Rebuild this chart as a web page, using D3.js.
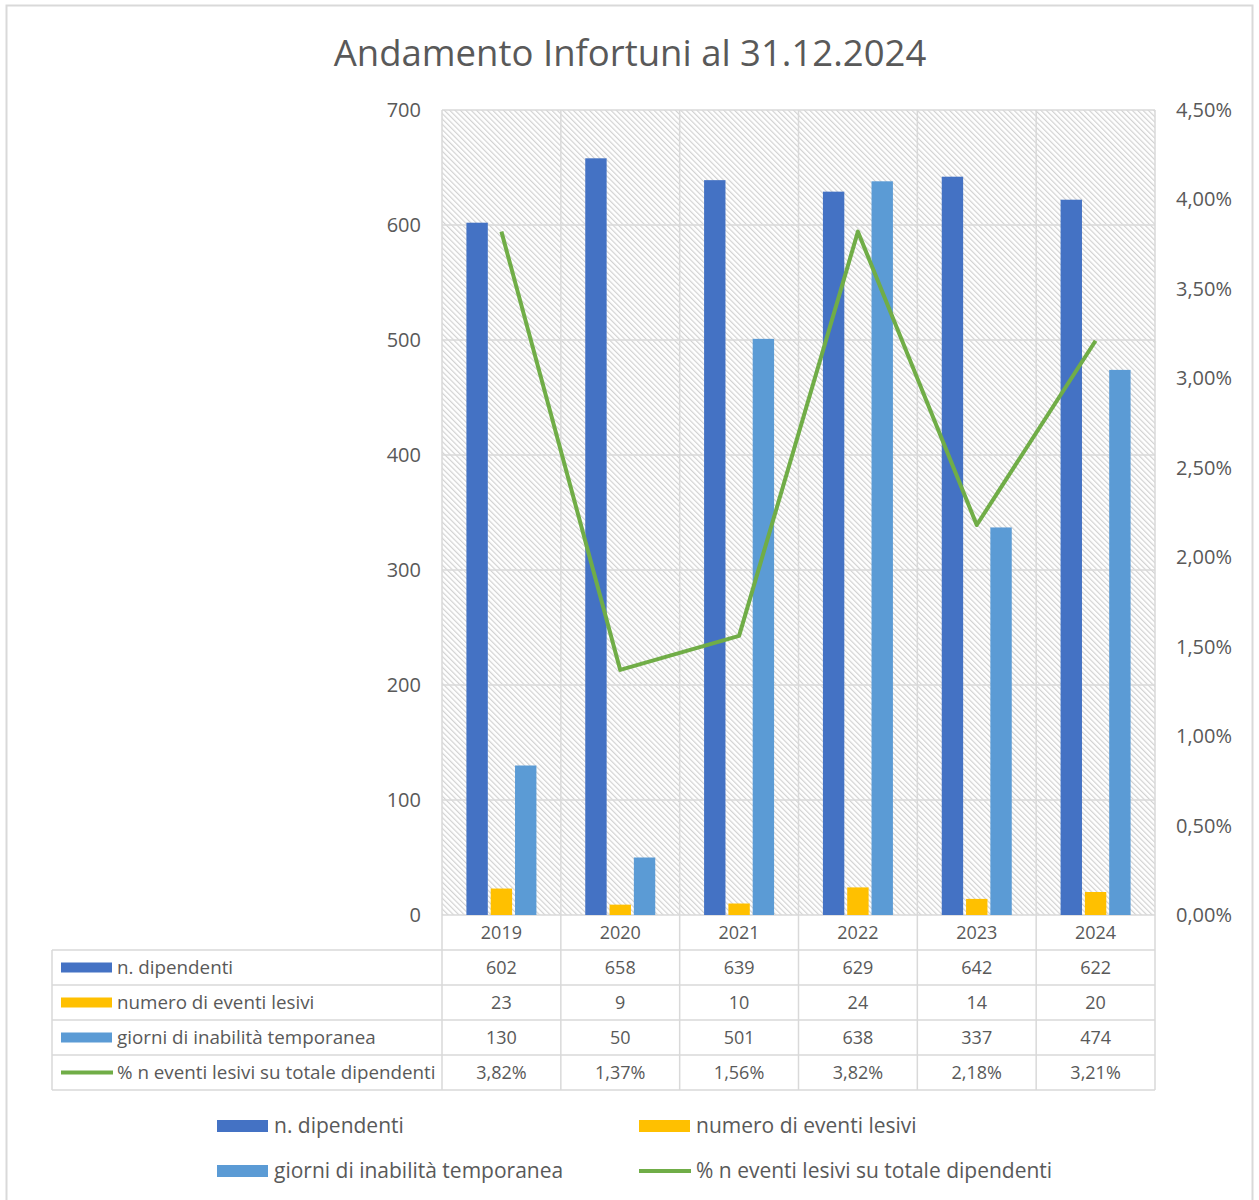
<!DOCTYPE html>
<html lang="it">
	<head>
		<meta charset="UTF-8">
		<title>Andamento Infortuni</title>
		<script src="https://cdnjs.cloudflare.com/ajax/libs/d3/7.8.5/d3.min.js"></script>
		<style>
			body {margin: 0; background: #fff;}
			text {font-family: "Open Sans", sans-serif; fill: #595959;}
		</style>
		<script>
var years = ["2019", "2020", "2021", "2022", "2023", "2024"];
var dipendenti = [602, 658, 639, 629, 642, 622];
var eventi = [23, 9, 10, 24, 14, 20];
var giorni = [130, 50, 501, 638, 337, 474];
var percentuali = [3.82, 1.37, 1.56, 3.82, 2.18, 3.21];
var leftTicks = [0, 100, 200, 300, 400, 500, 600, 700];
var rightTicks = [0, 0.5, 1, 1.5, 2, 2.5, 3, 3.5, 4, 4.5];

var barSeries = [
	{name: "n. dipendenti", values: dipendenti, color: "#4472C4"},
	{name: "numero di eventi lesivi", values: eventi, color: "#FFC000"},
	{name: "giorni di inabilità temporanea", values: giorni, color: "#5B9BD5"}
];
var lineSeries = {name: "% n eventi lesivi su totale dipendenti", values: percentuali, color: "#70AD47"};

function fmtPct(v) {return v.toFixed(2).replace(".", ",") + "%";}

function makeChart() {
	var svg = d3.select("#chart").attr("width", 1259).attr("height", 1200);

	var L = 442, R = 1155, T = 110, B = 915;
	var grid = "#d9d9d9";

	// outer frame
	svg.append("rect").attr("x", 6.5).attr("y", 5.5).attr("width", 1246).attr("height", 1200)
		.attr("fill", "#fff").attr("stroke", "#d9d9d9").attr("stroke-width", 2);

	// hatch pattern
	var pat = svg.append("defs").append("pattern").attr("id", "hatch")
		.attr("patternUnits", "userSpaceOnUse").attr("width", 3.8).attr("height", 10)
		.attr("patternTransform", "rotate(-45)");
	pat.append("line").attr("x1", 0.6).attr("y1", 0).attr("x2", 0.6).attr("y2", 10)
		.attr("stroke", "#d2d2d2").attr("stroke-width", 1.2);

	var x = d3.scaleBand().domain(years).range([L, R]).paddingInner(0).paddingOuter(0);
	var xs = d3.scaleBand().domain([0, 1, 2]).range([0, 70]).paddingInner(0.12);
	var off = (x.bandwidth() - 70) / 2;
	var y = d3.scaleLinear().domain([0, 700]).range([B, T]);
	var y2 = d3.scaleLinear().domain([0, 4.5]).range([B, T]);

	svg.append("rect").attr("x", L).attr("y", T).attr("width", R - L).attr("height", B - T)
		.attr("fill", "url(#hatch)");

	// horizontal gridlines
	svg.append("g").selectAll("line").data(leftTicks).join("line")
		.attr("x1", L).attr("x2", R).attr("y1", d => y(d)).attr("y2", d => y(d))
		.attr("stroke", grid).attr("stroke-width", 1.5);

	// vertical gridlines (extend through the data table)
	var bounds = years.map(d => x(d)).concat([R]);
	svg.append("g").selectAll("line").data(bounds).join("line")
		.attr("x1", d => d).attr("x2", d => d).attr("y1", T).attr("y2", 1090)
		.attr("stroke", grid).attr("stroke-width", 1.5);

	// axis labels
	svg.append("g").selectAll("text").data(leftTicks).join("text")
		.attr("x", 421).attr("y", d => y(d)).attr("dy", "0.35em")
		.attr("text-anchor", "end").attr("font-size", 20).text(d => d);
	svg.append("g").selectAll("text").data(rightTicks).join("text")
		.attr("x", 1176).attr("y", d => y2(d)).attr("dy", "0.35em")
		.attr("text-anchor", "start").attr("font-size", 20).text(d => fmtPct(d));

	// bars
	barSeries.forEach(function(s, i) {
		svg.append("g").selectAll("rect").data(s.values).join("rect")
			.attr("x", (d, j) => x(years[j]) + off + xs(i))
			.attr("width", xs.bandwidth())
			.attr("y", d => y(d)).attr("height", d => B - y(d))
			.attr("fill", s.color);
	});

	// line
	var line = d3.line().x((d, j) => x(years[j]) + x.bandwidth() / 2).y(d => y2(d));
	svg.append("path").datum(lineSeries.values).attr("d", line)
		.attr("fill", "none").attr("stroke", lineSeries.color).attr("stroke-width", 4)
		.attr("stroke-linejoin", "round");

	// data table
	var rowH = 35, TL = 52;
	var rows = barSeries.concat([lineSeries]);
	var hl = [B + rowH];
	rows.forEach((r, i) => hl.push(B + rowH * (i + 2)));
	svg.append("g").selectAll("line").data(hl).join("line")
		.attr("x1", TL).attr("x2", R).attr("y1", d => d).attr("y2", d => d)
		.attr("stroke", grid).attr("stroke-width", 1.5);
	svg.append("line").attr("x1", TL).attr("x2", TL).attr("y1", B + rowH).attr("y2", 1090)
		.attr("stroke", grid).attr("stroke-width", 1.5);

	svg.append("g").selectAll("text").data(years).join("text")
		.attr("x", d => x(d) + x.bandwidth() / 2).attr("y", B + rowH / 2).attr("dy", "0.35em")
		.attr("text-anchor", "middle").attr("font-size", 18).text(d => d);

	rows.forEach(function(r, i) {
		var cy = B + rowH * (i + 1) + rowH / 2;
		if (r === lineSeries) {
			svg.append("line").attr("x1", 61).attr("x2", 113).attr("y1", cy).attr("y2", cy)
				.attr("stroke", r.color).attr("stroke-width", 4);
		} else {
			svg.append("rect").attr("x", 61).attr("y", cy - 5).attr("width", 51).attr("height", 10)
				.attr("fill", r.color);
		}
		svg.append("text").attr("x", 117).attr("y", cy).attr("dy", "0.35em")
			.attr("font-size", 18.8).text(r.name);
		svg.append("g").selectAll("text").data(r.values).join("text")
			.attr("x", (d, j) => x(years[j]) + x.bandwidth() / 2).attr("y", cy).attr("dy", "0.35em")
			.attr("text-anchor", "middle").attr("font-size", 18)
			.text(d => r === lineSeries ? fmtPct(d) : d);
	});

	// legend
	var legPos = [[217, 1126], [639, 1126], [217, 1171], [639, 1171]];
	rows.forEach(function(r, i) {
		var p = legPos[i];
		if (r === lineSeries) {
			svg.append("line").attr("x1", p[0]).attr("x2", p[0] + 52).attr("y1", p[1]).attr("y2", p[1])
				.attr("stroke", r.color).attr("stroke-width", 4);
		} else {
			svg.append("rect").attr("x", p[0]).attr("y", p[1] - 6).attr("width", 51).attr("height", 12)
				.attr("fill", r.color);
		}
		svg.append("text").attr("x", p[0] + 57).attr("y", p[1]).attr("dy", "0.35em")
			.attr("font-size", 21).text(r.name);
	});

	// title
	svg.append("text").attr("x", 630).attr("y", 53).attr("dy", "0.35em")
		.attr("text-anchor", "middle").attr("font-size", 36.5).text("Andamento Infortuni al 31.12.2024");
}
		</script>
	</head>
	<body onload="makeChart()">
		<svg id="chart"></svg>
	</body>
</html>
